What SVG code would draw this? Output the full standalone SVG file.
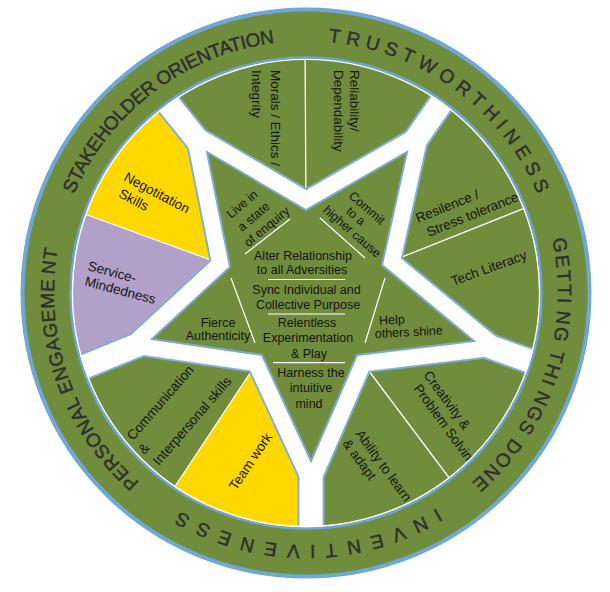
<svg xmlns="http://www.w3.org/2000/svg" width="610" height="592" viewBox="0 0 610 592">
<defs>
<style>
.lbl{font-family:"Liberation Sans",Arial,sans-serif;font-size:13.5px;fill:#141414}
.slbl{font-family:"Liberation Sans",Arial,sans-serif;font-size:12.5px;fill:#141414}
.ring{font-family:"Liberation Sans",Arial,sans-serif;font-size:19px;fill:#2f2f2f;stroke:#2f2f2f;stroke-width:0.45}
.div{stroke:#ffffff;stroke-width:1.3;fill:none}
.sdiv{stroke:#ffffff;stroke-width:1.2;fill:none}
.green{fill:#6f8d3d}
</style>
<path id="ringPath" d="M306 41 A252 252 0 0 1 306 545 A252 252 0 0 1 306 41"/>
</defs>
<rect width="610" height="592" fill="#ffffff"/>
<circle cx="306" cy="293" r="240" class="green"/>

<g id="segments">
  <g id="seg-negotiation">
    <polygon points="230,267 60,205 100,140 157,90 207,152" fill="#ffd800"/>
    <text class="lbl" transform="translate(123,180) rotate(28)"><tspan x="0" y="0">Negotitation</tspan><tspan x="3" y="17">Skills</tspan></text>
  </g>
  <g id="seg-service">
    <polygon points="230,267 60,205 50,290 69,373 152,339" fill="#b1a0c8"/>
    <text class="lbl" transform="translate(87,270) rotate(15)"><tspan x="0" y="0">Service-</tspan><tspan x="1" y="15.5">Mindedness</tspan></text>
  </g>
  <g id="seg-teamwork">
    <polygon points="262,355 168,497 235,535 311,545 311,461" fill="#ffd800"/>
    <text class="lbl" transform="translate(236,491) rotate(-56)">Team work</text>
  </g>
  <g id="seg-communication">
    <text class="lbl" transform="translate(133,441) rotate(-49)"><tspan x="0" y="0">Communication</tspan><tspan x="-3" y="18">&amp;</tspan><tspan x="-2" y="36">Interpersonal skills</tspan></text>
  </g>
  <g id="seg-morals">
    <text class="lbl" transform="translate(271,70) rotate(90)"><tspan x="0" y="0">Morals / Ethics /</tspan><tspan x="0" y="19">Integrity</tspan></text>
  </g>
  <g id="seg-reliability">
    <text class="lbl" transform="translate(350,70) rotate(90)"><tspan x="0" y="0">Reliability/</tspan><tspan x="0" y="16.5">Dependability</tspan></text>
  </g>
  <g id="seg-resilence">
    <text class="lbl" transform="translate(418,223) rotate(-22)"><tspan x="0" y="0">Resilence /</tspan><tspan x="5" y="17">Stress tolerance</tspan></text>
  </g>
  <g id="seg-tech">
    <text class="lbl" transform="translate(453,286) rotate(-20)">Tech Literacy</text>
  </g>
  <g id="seg-creativity">
    <text class="lbl" transform="translate(423,375) rotate(54)"><tspan x="0" y="0">Creativity &amp;</tspan><tspan x="5" y="16">Problem Solving</tspan></text>
  </g>
  <g id="seg-ability">
    <text class="lbl" transform="translate(355,434) rotate(54)"><tspan x="0" y="0">Ability to learn</tspan><tspan x="0" y="16">&amp; adapt</tspan></text>
  </g>
  <g id="dividers">
    <path class="div" d="M305 40 L306 210 M382 265 L545 200 M357 355 L465 499 M262 355 L160 509 M230 267 L60 205"/>
  </g>
</g>

<g id="connectors">
  <g fill="none" stroke="#84afd5" stroke-linejoin="miter" stroke-miterlimit="20">
    <polygon points="207,152 306,210 407,152 382,265 474,341 357,355 311,461 262,355 152,339 230,267" stroke-width="38"/>
    <path d="M207 152 L157 90 M407 152 L453 86 M474 341 L549 368 M311 461 L311 545 M152 339 L69 373" stroke-width="27"/>
  </g>
  <g fill="none" stroke="#ffffff" stroke-linejoin="miter" stroke-miterlimit="20">
    <polygon points="207,152 306,210 407,152 382,265 474,341 357,355 311,461 262,355 152,339 230,267" stroke-width="34"/>
    <path d="M207 152 L157 90 M407 152 L453 86 M474 341 L549 368 M311 461 L311 545 M152 339 L69 373" stroke-width="23"/>
  </g>
</g>

<g id="star">
  <polygon points="207,152 306,210 407,152 382,265 474,341 357,355 311,461 262,355 152,339 230,267" class="green" stroke="#7fa9cf" stroke-width="2"/>
  <path class="sdiv" d="M245 254 L290 219 M320 218 L365 258 M231 278 L255 343 M385 278 L365 343 M268 279.5 H345 M268 314 H345 M273 362.7 H345"/>
  <g id="star-enquiry">
    <text class="slbl" transform="translate(231,219) rotate(-40)"><tspan x="0" y="0">Live in</tspan><tspan x="0" y="17">a state</tspan><tspan x="-5" y="33">of enquiry</tspan></text>
  </g>
  <g id="star-commit">
    <text class="slbl" transform="translate(348,197) rotate(41)"><tspan x="0" y="0">Commit</tspan><tspan x="8" y="13.5">to a</tspan><tspan x="-10" y="27.5">higher cause</tspan></text>
  </g>
  <g id="star-fierce">
    <text class="slbl" text-anchor="middle"><tspan x="218" y="327">Fierce</tspan><tspan x="218" y="340">Authenticity</tspan></text>
  </g>
  <g id="star-help">
    <text class="slbl" transform="rotate(-3 375 338)"><tspan x="380" y="325">Help</tspan><tspan x="375" y="338">others shine</tspan></text>
  </g>
  <g id="star-alter">
    <text class="slbl" text-anchor="middle"><tspan x="303" y="259.5">Alter Relationship</tspan><tspan x="302" y="274">to all Adversities</tspan></text>
  </g>
  <g id="star-sync">
    <text class="slbl" text-anchor="middle"><tspan x="306.5" y="293.5">Sync Individual and</tspan><tspan x="308" y="308.5">Collective Purpose</tspan></text>
  </g>
  <g id="star-relentless">
    <text class="slbl" text-anchor="middle"><tspan x="307" y="327">Relentless</tspan><tspan x="308" y="342">Experimentation</tspan><tspan x="309" y="357.5">&amp; Play</tspan></text>
  </g>
  <g id="star-harness">
    <text class="slbl" text-anchor="middle"><tspan x="311" y="376.5">Harness the</tspan><tspan x="311" y="392">intuitive</tspan><tspan x="309" y="407.5">mind</tspan></text>
  </g>
</g>

<g id="ring">
  <circle cx="306" cy="293" r="260" fill="none" stroke="#6f8d3d" stroke-width="50"/>
  <circle cx="306" cy="293" r="283.5" fill="none" stroke="#71a7d6" stroke-width="4"/>
  <circle cx="306" cy="293" r="235.5" fill="none" stroke="#6fa3d0" stroke-width="2.5"/>
  <circle cx="306" cy="293" r="233.6" fill="none" stroke="#ffffff" stroke-width="1.4"/>
  <text class="ring" letter-spacing="5.7"><textPath href="#ringPath" startOffset="22.3">TRUSTWORTHINESS</textPath></text>
  <text class="ring" letter-spacing="2.1"><textPath href="#ringPath" startOffset="341.4">GETTI<tspan dx="5">NG THI</tspan><tspan dx="5">NGS DONE</tspan></textPath></text>
  <text class="ring" letter-spacing="9.8"><textPath href="#ringPath" startOffset="653.6">INVENTIVENESS</textPath></text>
  <text class="ring" letter-spacing="0.6"><textPath href="#ringPath" startOffset="973.1">PERSONAL ENGAGEME<tspan dx="4">NT</tspan></textPath></text>
  <text class="ring" letter-spacing="-0.45"><textPath href="#ringPath" startOffset="1288.5">STAKEHOLDER ORIENTATION</textPath></text>
</g>
</svg>
